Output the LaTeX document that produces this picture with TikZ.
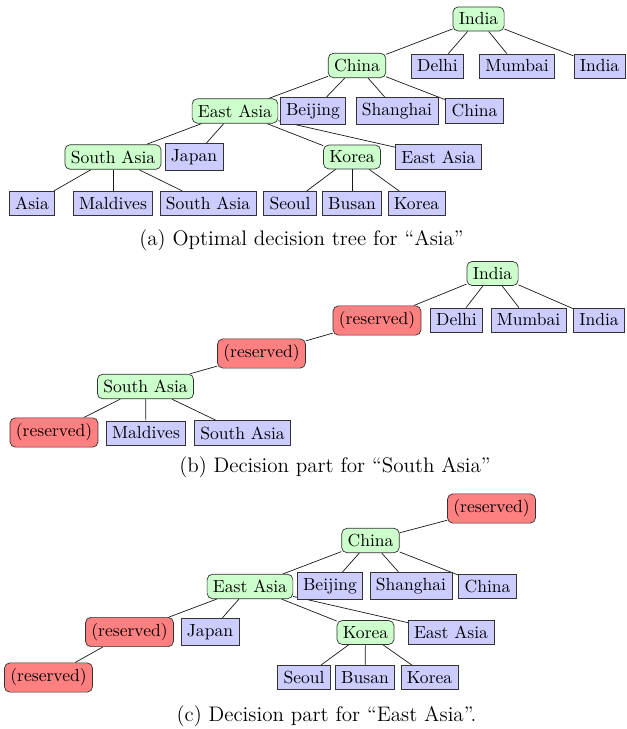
\documentclass[tikz,border=0pt]{standalone}
\usetikzlibrary{backgrounds}
\begin{document}
\begin{tikzpicture}[x=0.57pt,y=-0.57pt,
  dec/.style={draw=black!80, fill=green!20, rounded corners=3pt, line width=0.4pt},
  leaf/.style={draw=black!80, fill=blue!20, line width=0.4pt},
  res/.style={draw=black!80, fill=red!50, rounded corners=3pt, line width=0.4pt},
  edge/.style={draw=black!90, line width=0.4pt},
  capt/.style={inner sep=0pt, font=\fontsize{12}{14}\selectfont}]
\useasboundingbox (0,0) rectangle (626,729);
% ---------- (a)
\node[dec]  (a-india)    at (478.5,19)   {India};
\node[dec]  (a-china)    at (357,65.5)   {China};
\node[leaf] (a-delhi)    at (437.5,66)   {Delhi};
\node[leaf] (a-mumbai)   at (517,66)     {Mumbai};
\node[leaf] (a-indial)   at (599.5,66)   {India};
\node[dec]  (a-east)     at (235,111)    {East Asia};
\node[leaf] (a-beijing)  at (313,111)    {Beijing};
\node[leaf] (a-shanghai) at (397,111)    {Shanghai};
\node[leaf] (a-chinal)   at (474.5,111)  {China};
\node[dec]  (a-south)    at (113,157)    {South Asia};
\node[leaf] (a-japan)    at (194,157)    {Japan};
\node[dec]  (a-korea)    at (352,157)    {Korea};
\node[leaf] (a-eastl)    at (438.5,157)  {East Asia};
\node[leaf] (a-asia)     at (32,203.5)   {Asia};
\node[leaf] (a-maldives) at (113,203.5)  {Maldives};
\node[leaf] (a-southl)   at (208,203.5)  {South Asia};
\node[leaf] (a-seoul)    at (290,203.5)  {Seoul};
\node[leaf] (a-busan)    at (352,203.5)  {Busan};
\node[leaf] (a-koreal)   at (416.5,203.5){Korea};
\node[capt] (cap-a) at (301.5,240) {(a) Optimal decision tree for ``Asia''};
% ---------- (b)
\node[dec]  (b-india)    at (492.5,273.5) {India};
\node[res]  (b-res1)     at (377,320.5)   {(reserved)};
\node[leaf] (b-delhi)    at (456.5,320)   {Delhi};
\node[leaf] (b-mumbai)   at (528.5,320)   {Mumbai};
\node[leaf] (b-indial)   at (599,320)     {India};
\node[res]  (b-res2)     at (261.5,353.5) {(reserved)};
\node[dec]  (b-south)    at (145.5,386.5) {South Asia};
\node[res]  (b-res3)     at (54,432.5)    {(reserved)};
\node[leaf] (b-maldives) at (146,433)     {Maldives};
\node[leaf] (b-southl)   at (242.5,433)   {South Asia};
\node[capt] (cap-b) at (335,467) {(b) Decision part for ``South Asia''};
% ---------- (c)
\node[res]  (c-res1)     at (491.5,508.5) {(reserved)};
\node[dec]  (c-china)    at (370.5,540.5) {China};
\node[dec]  (c-east)     at (250,586.5)   {East Asia};
\node[leaf] (c-beijing)  at (330,586)     {Beijing};
\node[leaf] (c-shanghai) at (411,586)     {Shanghai};
\node[leaf] (c-chinal)   at (487.5,586.5) {China};
\node[res]  (c-res2)     at (129.5,632)   {(reserved)};
\node[leaf] (c-japan)    at (210,632)     {Japan};
\node[dec]  (c-korea)    at (365.5,632.5) {Korea};
\node[leaf] (c-eastl)    at (451,632.5)   {East Asia};
\node[res]  (c-res3)     at (48.5,677.5)  {(reserved)};
\node[leaf] (c-seoul)    at (304,677.5)   {Seoul};
\node[leaf] (c-busan)    at (365,677.5)   {Busan};
\node[leaf] (c-koreal)   at (429.5,677.5) {Korea};
\node[capt] (cap-c) at (326.5,716) {(c) Decision part for ``East Asia''.};
% ---------- edges
\begin{pgfonlayer}{background}
\foreach \p/\c in {a-india/a-china, a-india/a-delhi, a-india/a-mumbai, a-india/a-indial,
  a-china/a-east, a-china/a-beijing, a-china/a-shanghai, a-china/a-chinal,
  a-east/a-south, a-east/a-japan, a-east/a-korea, a-east/a-eastl,
  a-south/a-asia, a-south/a-maldives, a-south/a-southl,
  a-korea/a-seoul, a-korea/a-busan, a-korea/a-koreal,
  b-india/b-res1, b-india/b-delhi, b-india/b-mumbai, b-india/b-indial,
  b-res1/b-res2, b-res2/b-south,
  b-south/b-res3, b-south/b-maldives, b-south/b-southl,
  c-res1/c-china,
  c-china/c-east, c-china/c-beijing, c-china/c-shanghai, c-china/c-chinal,
  c-east/c-res2, c-east/c-japan, c-east/c-korea, c-east/c-eastl,
  c-res2/c-res3,
  c-korea/c-seoul, c-korea/c-busan, c-korea/c-koreal}
  \draw[edge] (\p) -- (\c);
\end{pgfonlayer}
\end{tikzpicture}
\end{document}
